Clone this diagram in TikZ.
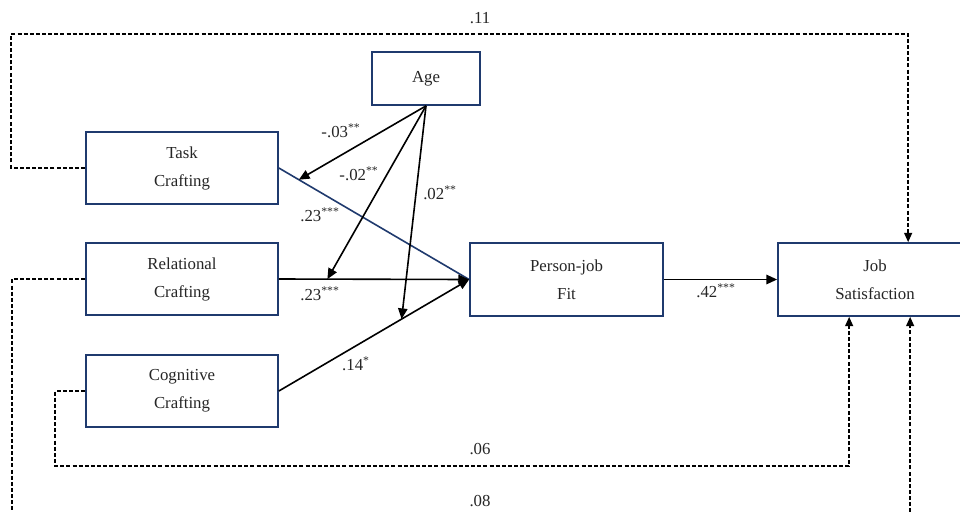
\documentclass[tikz,border=0pt]{standalone}
\usepackage{fontspec}
\setmainfont{Liberation Serif}
\usetikzlibrary{arrows.meta,calc}
\definecolor{boxnavy}{HTML}{1F3A6E}
\begin{document}
\begin{tikzpicture}[x=0.75pt,y=-0.75pt,
  box/.style={draw=boxnavy,line width=1.3pt,align=center,inner sep=0pt,
    font=\fontsize{12.6}{21}\selectfont,text=black!85},
  lab/.style={font=\fontsize{12.6}{14}\selectfont,text=black!85,inner sep=0pt},
  solidarrow/.style={line width=1.2pt,-{Triangle[length=8pt,width=7pt]}},
  dasharrow/.style={line width=1.05pt,dash pattern=on 3pt off 1.6pt,-{Triangle[length=7pt,width=6pt]}},
  dashline/.style={line width=1.05pt,dash pattern=on 3pt off 1.6pt}]
\useasboundingbox (0,0) rectangle (960,511);
\clip (0,0) rectangle (960,511);
\fill[white] (0,0) rectangle (960,511);

\node[box,minimum width=108*0.75pt,minimum height=53*0.75pt] (age) at (426,78.5) {Age};
\node[box,minimum width=192*0.75pt,minimum height=72*0.75pt] (task) at (182,168) {Task\\Crafting};
\node[box,minimum width=192*0.75pt,minimum height=72*0.75pt] (rel) at (182,279) {Relational\\Crafting};
\node[box,minimum width=192*0.75pt,minimum height=72*0.75pt] (cog) at (182,391) {Cognitive\\Crafting};
\node[box,minimum width=193*0.75pt,minimum height=73*0.75pt] (pj) at (566.5,279.5) {Person-job\\Fit};
\node[box,minimum width=194*0.75pt,minimum height=73*0.75pt] (js) at (875,279.5) {Job\\Satisfaction};

% main paths
\coordinate (pjin) at ($(pj.west)+(0,0)$);
\draw[boxnavy,line width=1.2pt] (task.east) -- (pjin) coordinate[pos=0.105] (t1);
\draw[solidarrow] (rel.east) -- (pjin);
\path (rel.east) -- (pjin) coordinate[pos=0.255] (r1);
\draw[solidarrow] (cog.east) -- (pjin) coordinate[pos=0.645] (c1);
\draw[solidarrow] (pj.east) -- (js.west);

% moderation arrows
\draw[solidarrow] (age.south) -- (t1);
\draw[solidarrow] (age.south) -- (r1);
\draw[solidarrow] (age.south) -- (c1);

% labels
\node[lab] (l1) at (341,131) {-.03\textsuperscript{**}};
\node[lab] (l2) at (359,174) {-.02\textsuperscript{**}};
\node[lab] (l3) at (440,193) {.02\textsuperscript{**}};
\node[lab] (l4) at (320,215) {.23\textsuperscript{***}};
\node[lab] (l5) at (320,294) {.23\textsuperscript{***}};
\node[lab] (l6) at (356,364) {.14\textsuperscript{*}};
\node[lab] (l7) at (716,291) {.42\textsuperscript{***}};
\node[lab] (l8) at (480,18) {.11};
\node[lab] (l9) at (480,449) {.06};
\node[lab] (l10) at (480,501) {.08};

% dashed direct paths
\coordinate (tA) at (11,34);
\coordinate (jsT) at ($(js.north west)+(131,0)$);
\draw[dasharrow] (task.west) -| (tA) -| (jsT);

\coordinate (cA) at (55,466);
\coordinate (jsB1) at ($(js.south west)+(72,0)$);
\draw[dasharrow] (cog.west) -| (cA) -| (jsB1);

\coordinate (rA) at (12,530);
\draw[dashline] (rel.west) -| (rA);
\coordinate (jsB2) at ($(js.south west)+(133,0)$);
\coordinate (rB) at ($(jsB2)+(0,220)$);
\draw[dasharrow] (rB) -- (jsB2);
\end{tikzpicture}
\end{document}
